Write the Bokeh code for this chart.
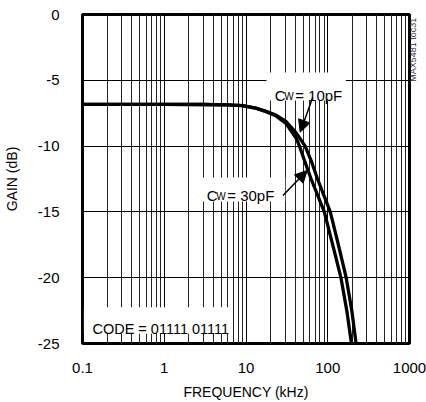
from math import pi
from bokeh.plotting import figure
from bokeh.models import FixedTicker, Label, Arrow, NormalHead, BoxAnnotation, LinearAxis
from bokeh.embed import file_html
from bokeh.resources import INLINE

# ---- data ----
freq_10pf = [0.1, 1, 3, 6, 9, 13.4, 18, 23.5, 31.1, 41.1, 52.9, 62.6, 75.0, 107.4, 135, 168, 197, 222]
gain_10pf = [-6.83, -6.83, -6.84, -6.86, -6.92, -7.12, -7.38, -7.66, -8.15, -9.0, -10.0, -11.1, -12.5,
             -15.0, -17.5, -20.0, -22.5, -25.0]

freq_30pf = [0.1, 1, 3, 6, 9, 13.4, 18, 23.5, 31.1, 41.1, 45.1, 51.9, 62.6, 90.8, 115, 145, 171, 195]
gain_30pf = [-6.83, -6.83, -6.84, -6.86, -6.92, -7.13, -7.4, -7.72, -8.3, -9.4, -10.0, -11.1, -12.5,
             -15.0, -17.5, -20.0, -22.5, -25.0]

x_ticks = [0.1, 1, 10, 100, 1000]
x_tick_labels = ["0.1", "1", "10", "100", "1000"]
x_minor = [m * d for d in (0.1, 1, 10, 100) for m in range(2, 10)]
y_ticks = [0, -5, -10, -15, -20, -25]
y_tick_labels = ["0", "-5", "-10", "-15", "-20", "-25"]
watermark_pos = [-2.5]
watermark_text = ["MAX5481 toc31"]

FONT = "Liberation Sans"

p = figure(width=426, height=402, x_axis_type="log",
           x_range=(0.1, 1000), y_range=(-25, 0),
           output_backend="svg", toolbar_location=None,
           min_border_left=80, min_border_right=17,
           min_border_top=14, min_border_bottom=59)

p.background_fill_color = "white"
p.border_fill_color = "white"
p.outline_line_color = "black"
p.outline_line_width = 3

# axes
p.xaxis.ticker = FixedTicker(ticks=x_ticks, minor_ticks=x_minor)
p.xaxis.major_label_overrides = {t: l for t, l in zip(x_ticks, x_tick_labels)}
p.yaxis.ticker = FixedTicker(ticks=y_ticks)
p.yaxis.major_label_overrides = {t: l for t, l in zip(y_ticks, y_tick_labels)}
for ax in (p.xaxis[0], p.yaxis[0]):
    ax.axis_line_color = None
    ax.major_tick_line_color = None
    ax.minor_tick_line_color = None
    ax.major_label_text_font = FONT
    ax.major_label_text_font_size = "15px"
    ax.major_label_text_color = "black"
    ax.axis_label_text_font = FONT
    ax.axis_label_text_font_size = "14px"
    ax.axis_label_text_font_style = "normal"
    ax.axis_label_text_color = "black"
p.xaxis.major_label_standoff = 13
p.yaxis.major_label_standoff = 17
p.xaxis.axis_label = "FREQUENCY (kHz)"
p.xaxis.axis_label_standoff = 8
p.yaxis.axis_label = "GAIN (dB)"
p.yaxis.axis_label_standoff = 15

# watermark on the right side (as a single rotated tick label)
wm = LinearAxis(ticker=FixedTicker(ticks=watermark_pos),
                major_label_overrides={t: s for t, s in zip(watermark_pos, watermark_text)},
                major_label_orientation=pi / 2,
                axis_line_color=None, major_tick_line_color=None,
                minor_tick_line_color=None, major_tick_out=0, major_tick_in=0,
                major_label_standoff=4,
                major_label_text_font=FONT, major_label_text_font_size="9px",
                major_label_text_color="#333333")
p.add_layout(wm, "right")

# grid
p.xgrid.grid_line_color = "black"
p.xgrid.grid_line_width = 1
p.xgrid.minor_grid_line_color = "#222222"
p.xgrid.minor_grid_line_width = 1
p.ygrid.grid_line_color = "black"
p.ygrid.grid_line_width = 1

# curves
p.line(freq_10pf, gain_10pf, line_width=3.3, line_color="black", line_join="round")
p.line(freq_30pf, gain_30pf, line_width=3.3, line_color="black", line_join="round")

# white label boxes
p.add_layout(BoxAnnotation(left=17.8, right=166.7, top=-4.41, bottom=-6.53,
                           fill_color="white", fill_alpha=1, line_color=None))
p.add_layout(BoxAnnotation(left=2.8, right=30.2, top=-12.39, bottom=-14.21,
                           fill_color="white", fill_alpha=1, line_color=None))
p.add_layout(BoxAnnotation(left=0.104, right=6.48, top=-22.24, bottom=-24.26,
                           fill_color="white", fill_alpha=1, line_color=None))

def cw_label(x, y, val):
    p.add_layout(Label(x=x, y=y, text="C", text_font=FONT, text_font_size="15px",
                       text_baseline="alphabetic", text_color="black"))
    p.add_layout(Label(x=x, y=y, x_offset=9.5, y_offset=-1, text="W", text_font=FONT,
                       text_font_size="10px", text_baseline="alphabetic", text_color="black"))
    p.add_layout(Label(x=x, y=y, x_offset=20.5, text="= " + val, text_font=FONT,
                       text_font_size="15px", text_baseline="alphabetic", text_color="black"))

cw_label(22.4, -6.155, "10pF")
cw_label(3.31, -13.75, "30pF")

p.add_layout(Label(x=0.1323, y=-23.88, text="CODE = 01111 01111", text_font=FONT,
                   text_font_size="14.5px", text_baseline="alphabetic", text_color="black"))

# arrows
p.add_layout(Arrow(x_start=65.6, y_start=-6.28, x_end=46.0, y_end=-8.94,
                   line_width=1.5, line_color="black",
                   end=NormalHead(size=12, fill_color="black", line_color="black")))
p.add_layout(Arrow(x_start=28.3, y_start=-13.75, x_end=56.0, y_end=-11.85,
                   line_width=1.5, line_color="black",
                   end=NormalHead(size=12, fill_color="black", line_color="black")))

open("out.html", "w").write(file_html(p, INLINE))
